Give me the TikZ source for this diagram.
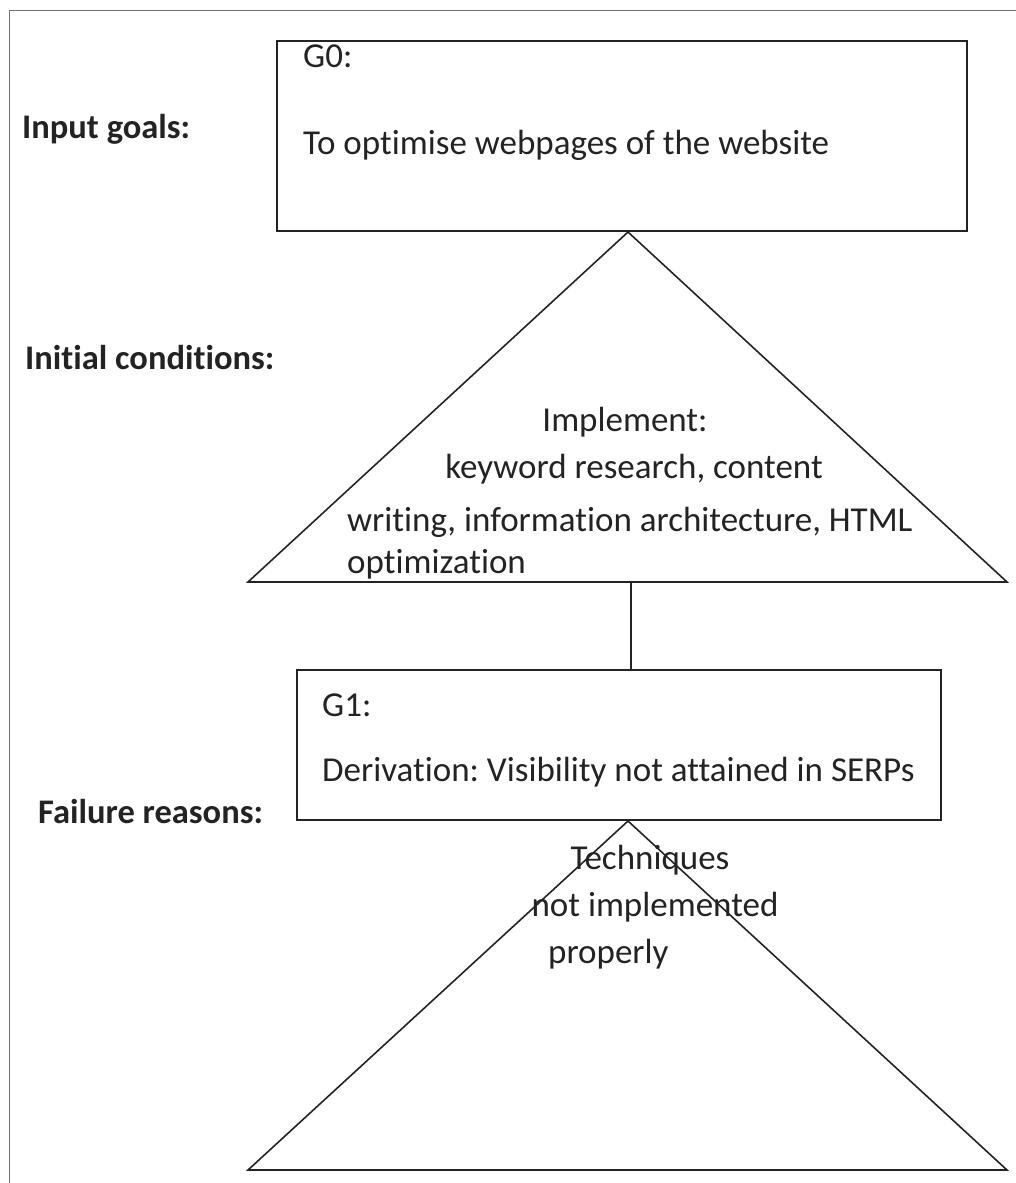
\documentclass[tikz,border=0pt]{standalone}
\usepackage{fontspec}
\setmainfont[Ligatures=NoCommon]{Carlito}
\usetikzlibrary{positioning}
\definecolor{inkgray}{RGB}{35,35,35}
\definecolor{framegray}{RGB}{115,115,115}
\begin{document}
\frenchspacing
\begin{tikzpicture}[x=1pt,y=-1pt,
      box/.style={draw=inkgray,line width=1.8pt,inner sep=0pt},
      tri/.style={draw=inkgray,line width=1.6pt,line join=miter},
      lbl/.style={inner sep=0pt,anchor=base west,text=inkgray,
                  font=\fontsize{34.5}{40}\selectfont\bfseries},
      txt/.style={inner sep=0pt,text=inkgray,
                  font=\fontsize{35}{40}\selectfont},
      a/.style={draw=inkgray,line width=1.6pt}]
      \useasboundingbox (0,0) rectangle (1016,1183);
      \draw[framegray,line width=1.4pt] (9.5,1183) -- (9.5,10.5) -- (1016,10.5);
      % goal boxes
      \node[box,minimum width=690pt,minimum height=190pt] (g0) at (622,136) {};
      \node[box,minimum width=644pt,minimum height=150pt] (g1) at (619,745) {};
      % triangles
      \coordinate (t1a) at (628,232); \coordinate (t1l) at (248,582); \coordinate (t1r) at (1007,582);
      \coordinate (t2a) at (628,821); \coordinate (t2l) at (248,1170); \coordinate (t2r) at (1007,1170);
      \draw[tri] (t1a) -- (t1r) -- (t1l) -- cycle;
      \draw[tri] (t2a) -- (t2r) -- (t2l) -- cycle;
      \coordinate (c1) at (631,582);
      \draw[a] (c1) -- (c1 |- g1.north);
      % side labels
      \node[lbl] (inp) at (22,138) {Input goals:};
      \node[lbl] (ini) at (25,369) {Initial conditions:};
      \node[lbl] (fai) at (38,823) {Failure reasons:};
      % texts
      \node[txt,anchor=base west] (g0h) at (303,67) {G0:};
      \node[txt,anchor=base west] (g0t) at (303,154) {To optimise webpages of the website};
      \node[txt,anchor=base] (im1) at (625,431) {Implement:};
      \node[txt,anchor=base] (im2) at (634,478) {keyword research, content};
      \node[txt,anchor=base west] (im3) at (347,531) {writing, information architecture, HTML};
      \node[txt,anchor=base west] (im4) at (347,573) {optimization};
      \node[txt,anchor=base west] (g1h) at (322,716) {G1:};
      \node[txt,anchor=base west] (g1t) at (322,781) {Derivation: Visibility not attained in SERPs};
      \node[txt,anchor=base] (fr1) at (650,869) {Techniques};
      \node[txt,anchor=base] (fr2) at (655,916) {not implemented};
      \node[txt,anchor=base west] (fr3) at (548,963) {properly};
    \end{tikzpicture}
\end{document}
